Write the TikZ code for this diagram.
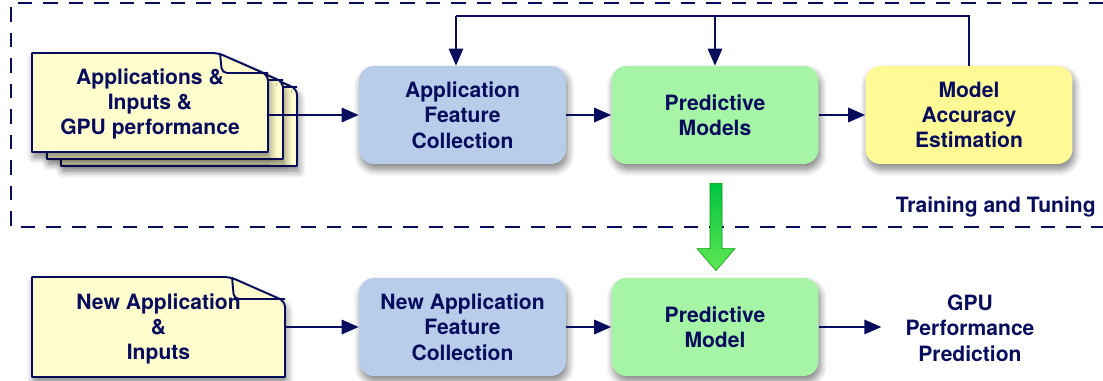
\documentclass[tikz,border=0pt]{standalone}
\usepackage{fontspec}
\setmainfont{TeX Gyre Heros}
\usetikzlibrary{arrows.meta,shadows.blur,calc}

\definecolor{ink}{RGB}{8,12,92}
\definecolor{featfill}{RGB}{183,205,234}
\definecolor{modelfill}{RGB}{166,245,166}
\definecolor{accfill}{RGB}{255,250,150}
\definecolor{pagefill}{RGB}{255,252,205}
\definecolor{gtop}{RGB}{0,196,64}
\definecolor{gbot}{RGB}{96,232,84}

\tikzset{
  softshadow/.style={blur shadow={shadow xshift=1pt, shadow yshift=-3pt,
      shadow blur radius=4pt, shadow blur steps=8, shadow opacity=50}},
  stage/.style={rounded corners=0.3cm, minimum width=4.14cm, minimum height=1.96cm,
      align=center, softshadow},
  pageline/.style={draw=ink, line width=1.1pt, fill=pagefill, line join=round},
  conn/.style={draw=ink, line width=0.9pt, -{Triangle[length=0.34cm,width=0.29cm]}},
  lbl/.style={align=center, text=ink},
}

% one sheet with a dog-eared top right corner:
% #1,#2 top left, #3,#4 bottom right, #5 fold width
\newcommand\dogear[5]{%
  \path[pageline, softshadow]
    (#1,#4) -- (#1,#2) [rounded corners=0.12cm] -- ({#3-#5},#2)
    -- (#3,{#2+0.44*#5}) [sharp corners] -- (#3,#4) -- cycle;
  \draw[ink, line width=1.1pt, rounded corners=0.1cm]
    ({#3-#5+2},#2) -- ({#3-#5+4},{#2+0.4*#5}) -- (#3,{#2+0.4*#5});
}

\begin{document}
\begin{tikzpicture}[x=0.02cm, y=-0.02cm,
    font=\bfseries\fontsize{12}{14.4}\selectfont, text=ink]
\useasboundingbox (0,0) rectangle (1103,381);

% training / tuning frame
\draw[ink, line width=1.1pt, dash pattern=on 0.29cm off 0.22cm]
  (1103,3) -- (11,3) -- (11,227) -- (1103,227);

% stacked input sheets (back to front)
\dogear{61}{67}{297}{166}{50}
\dogear{47}{60}{283}{159}{50}
\dogear{32}{53}{268}{152}{50}
\node[lbl, minimum width=4.72cm, minimum height=1.98cm] (docA) at (150,104)
  {Applications \&\\Inputs \&\\GPU performance};

% new application sheet
\dogear{32}{277}{285}{377}{55}
\node[lbl, minimum width=5.06cm, minimum height=2cm] (docB) at (158.5,329)
  {New Application\\\&\\Inputs};

% training stages
\node[stage, fill=featfill] (afc) at (462.5,115) {Application\\Feature\\Collection};
\node[stage, fill=modelfill] (pm) at (715,115) {Predictive\\Models};
\node[stage, fill=accfill] (mae) at (969,115) {Model\\Accuracy\\Estimation};

% prediction stages
\node[stage, fill=featfill] (nafc) at (462.5,327) {New Application\\Feature\\Collection};
\node[stage, fill=modelfill] (pm2) at (715,327) {Predictive\\Model};
\node[lbl] (out) at (970,328) {GPU\\Performance\\Prediction};

\node[lbl, anchor=east, inner sep=0pt] (tt) at (1096,207) {Training and Tuning};

% training flow
\draw[conn] (docA.east |- afc.west) -- (afc.west);
\draw[conn] (afc.east) -- (pm.west);
\draw[conn] (pm.east) -- (mae.west);

% feedback loop
\coordinate (fbL) at (456,16);
\draw[ink, line width=0.9pt] (mae.north) |- (fbL);
\draw[conn] (fbL) -- (fbL |- afc.north);
\draw[conn] (pm.north |- fbL) -- (pm.north);

% prediction flow
\draw[conn] (docB.east |- nafc.west) -- (nafc.west);
\draw[conn] (nafc.east) -- (pm2.west);
\draw[conn] (pm2.east) -- ([xshift=-0.36cm]out.west |- pm2.east);

% trained model handed down
\coordinate (gs) at ($(pm.south)+(1,19)$);
\coordinate (gt) at ($(pm2.north)+(1,-7)$);
\path[top color=gtop, bottom color=gbot, draw=green!60!black, line width=0.3pt]
  ($(gs)+(-6,0)$) -- ($(gs)+(6,0)$) -- ($(gt)+(6,-22)$) -- ($(gt)+(19,-22)$)
  -- (gt) -- ($(gt)+(-19,-22)$) -- ($(gt)+(-6,-22)$) -- cycle;
\end{tikzpicture}
\end{document}
